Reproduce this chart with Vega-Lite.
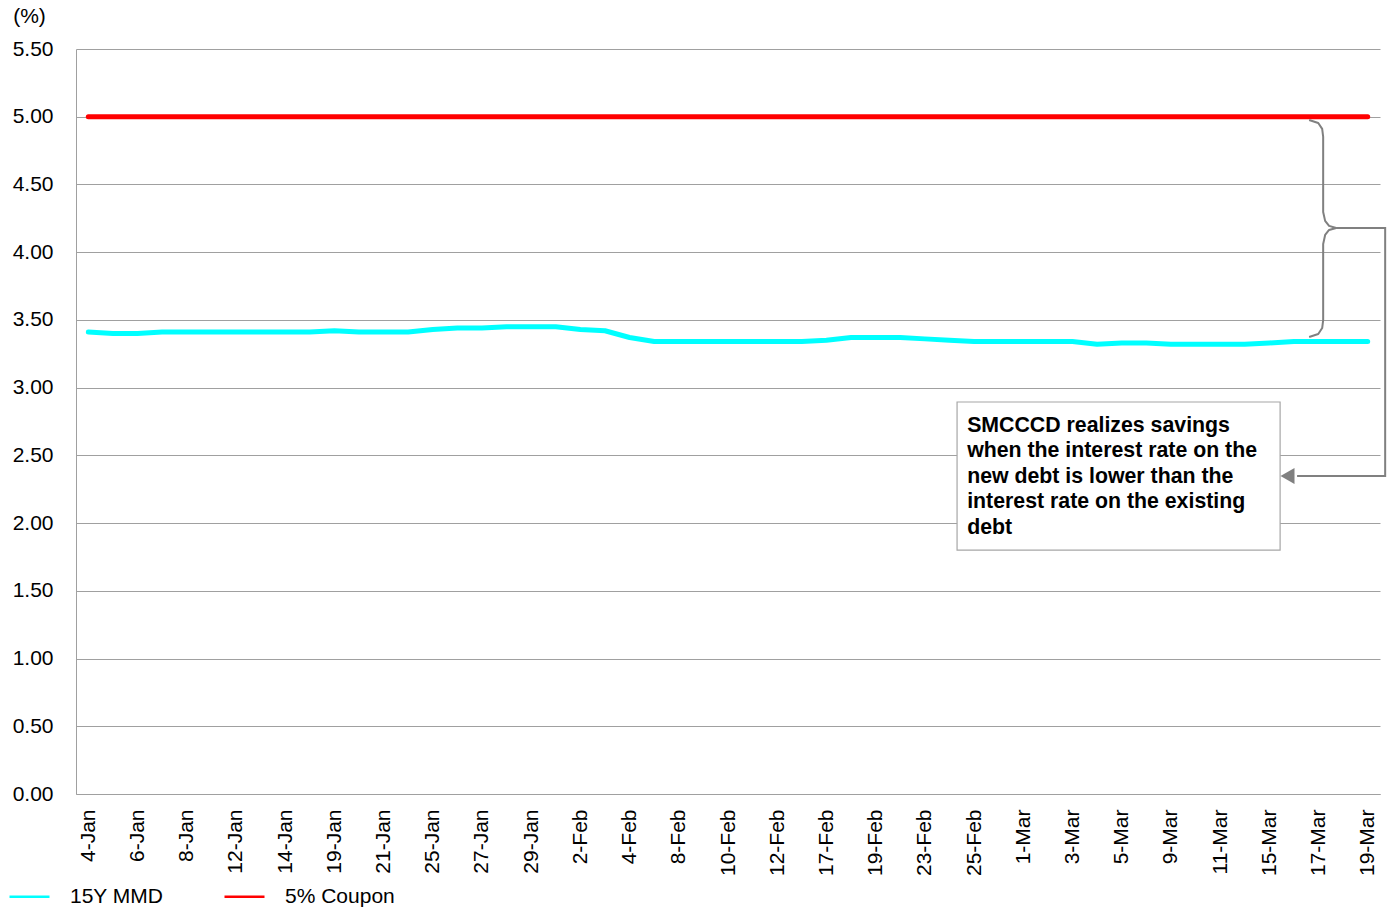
{
  "$schema": "https://vega.github.io/schema/vega-lite/v6.json",
  "width": 1304,
  "height": 745,
  "autosize": {"type": "none"},
  "padding": {"left": 76, "top": 49, "right": 9, "bottom": 113},
  "background": "white",
  "config": {
    "view": {"stroke": null},
    "font": "Liberation Sans",
    "axis": {"domainColor": "#A0A0A0", "gridColor": "#A0A0A0", "ticks": false, "labelFont": "Liberation Sans", "labelFontSize": 21, "labelColor": "#000000"},
    "legend": {"labelFont": "Liberation Sans", "labelFontSize": 21, "labelColor": "#000000"}
  },
  "datasets": {
    "rates": [
      {"date": "4-Jan", "series": "15Y MMD", "rate": 3.41},
      {"date": "5-Jan", "series": "15Y MMD", "rate": 3.40},
      {"date": "6-Jan", "series": "15Y MMD", "rate": 3.40},
      {"date": "7-Jan", "series": "15Y MMD", "rate": 3.41},
      {"date": "8-Jan", "series": "15Y MMD", "rate": 3.41},
      {"date": "11-Jan", "series": "15Y MMD", "rate": 3.41},
      {"date": "12-Jan", "series": "15Y MMD", "rate": 3.41},
      {"date": "13-Jan", "series": "15Y MMD", "rate": 3.41},
      {"date": "14-Jan", "series": "15Y MMD", "rate": 3.41},
      {"date": "15-Jan", "series": "15Y MMD", "rate": 3.41},
      {"date": "19-Jan", "series": "15Y MMD", "rate": 3.42},
      {"date": "20-Jan", "series": "15Y MMD", "rate": 3.41},
      {"date": "21-Jan", "series": "15Y MMD", "rate": 3.41},
      {"date": "22-Jan", "series": "15Y MMD", "rate": 3.41},
      {"date": "25-Jan", "series": "15Y MMD", "rate": 3.43},
      {"date": "26-Jan", "series": "15Y MMD", "rate": 3.44},
      {"date": "27-Jan", "series": "15Y MMD", "rate": 3.44},
      {"date": "28-Jan", "series": "15Y MMD", "rate": 3.45},
      {"date": "29-Jan", "series": "15Y MMD", "rate": 3.45},
      {"date": "1-Feb", "series": "15Y MMD", "rate": 3.45},
      {"date": "2-Feb", "series": "15Y MMD", "rate": 3.43},
      {"date": "3-Feb", "series": "15Y MMD", "rate": 3.42},
      {"date": "4-Feb", "series": "15Y MMD", "rate": 3.37},
      {"date": "5-Feb", "series": "15Y MMD", "rate": 3.34},
      {"date": "8-Feb", "series": "15Y MMD", "rate": 3.34},
      {"date": "9-Feb", "series": "15Y MMD", "rate": 3.34},
      {"date": "10-Feb", "series": "15Y MMD", "rate": 3.34},
      {"date": "11-Feb", "series": "15Y MMD", "rate": 3.34},
      {"date": "12-Feb", "series": "15Y MMD", "rate": 3.34},
      {"date": "16-Feb", "series": "15Y MMD", "rate": 3.34},
      {"date": "17-Feb", "series": "15Y MMD", "rate": 3.35},
      {"date": "18-Feb", "series": "15Y MMD", "rate": 3.37},
      {"date": "19-Feb", "series": "15Y MMD", "rate": 3.37},
      {"date": "22-Feb", "series": "15Y MMD", "rate": 3.37},
      {"date": "23-Feb", "series": "15Y MMD", "rate": 3.36},
      {"date": "24-Feb", "series": "15Y MMD", "rate": 3.35},
      {"date": "25-Feb", "series": "15Y MMD", "rate": 3.34},
      {"date": "26-Feb", "series": "15Y MMD", "rate": 3.34},
      {"date": "1-Mar", "series": "15Y MMD", "rate": 3.34},
      {"date": "2-Mar", "series": "15Y MMD", "rate": 3.34},
      {"date": "3-Mar", "series": "15Y MMD", "rate": 3.34},
      {"date": "4-Mar", "series": "15Y MMD", "rate": 3.32},
      {"date": "5-Mar", "series": "15Y MMD", "rate": 3.33},
      {"date": "8-Mar", "series": "15Y MMD", "rate": 3.33},
      {"date": "9-Mar", "series": "15Y MMD", "rate": 3.32},
      {"date": "10-Mar", "series": "15Y MMD", "rate": 3.32},
      {"date": "11-Mar", "series": "15Y MMD", "rate": 3.32},
      {"date": "12-Mar", "series": "15Y MMD", "rate": 3.32},
      {"date": "15-Mar", "series": "15Y MMD", "rate": 3.33},
      {"date": "16-Mar", "series": "15Y MMD", "rate": 3.34},
      {"date": "17-Mar", "series": "15Y MMD", "rate": 3.34},
      {"date": "18-Mar", "series": "15Y MMD", "rate": 3.34},
      {"date": "19-Mar", "series": "15Y MMD", "rate": 3.34},
      {"date": "4-Jan", "series": "5% Coupon", "rate": 5.0},
      {"date": "5-Jan", "series": "5% Coupon", "rate": 5.0},
      {"date": "6-Jan", "series": "5% Coupon", "rate": 5.0},
      {"date": "7-Jan", "series": "5% Coupon", "rate": 5.0},
      {"date": "8-Jan", "series": "5% Coupon", "rate": 5.0},
      {"date": "11-Jan", "series": "5% Coupon", "rate": 5.0},
      {"date": "12-Jan", "series": "5% Coupon", "rate": 5.0},
      {"date": "13-Jan", "series": "5% Coupon", "rate": 5.0},
      {"date": "14-Jan", "series": "5% Coupon", "rate": 5.0},
      {"date": "15-Jan", "series": "5% Coupon", "rate": 5.0},
      {"date": "19-Jan", "series": "5% Coupon", "rate": 5.0},
      {"date": "20-Jan", "series": "5% Coupon", "rate": 5.0},
      {"date": "21-Jan", "series": "5% Coupon", "rate": 5.0},
      {"date": "22-Jan", "series": "5% Coupon", "rate": 5.0},
      {"date": "25-Jan", "series": "5% Coupon", "rate": 5.0},
      {"date": "26-Jan", "series": "5% Coupon", "rate": 5.0},
      {"date": "27-Jan", "series": "5% Coupon", "rate": 5.0},
      {"date": "28-Jan", "series": "5% Coupon", "rate": 5.0},
      {"date": "29-Jan", "series": "5% Coupon", "rate": 5.0},
      {"date": "1-Feb", "series": "5% Coupon", "rate": 5.0},
      {"date": "2-Feb", "series": "5% Coupon", "rate": 5.0},
      {"date": "3-Feb", "series": "5% Coupon", "rate": 5.0},
      {"date": "4-Feb", "series": "5% Coupon", "rate": 5.0},
      {"date": "5-Feb", "series": "5% Coupon", "rate": 5.0},
      {"date": "8-Feb", "series": "5% Coupon", "rate": 5.0},
      {"date": "9-Feb", "series": "5% Coupon", "rate": 5.0},
      {"date": "10-Feb", "series": "5% Coupon", "rate": 5.0},
      {"date": "11-Feb", "series": "5% Coupon", "rate": 5.0},
      {"date": "12-Feb", "series": "5% Coupon", "rate": 5.0},
      {"date": "16-Feb", "series": "5% Coupon", "rate": 5.0},
      {"date": "17-Feb", "series": "5% Coupon", "rate": 5.0},
      {"date": "18-Feb", "series": "5% Coupon", "rate": 5.0},
      {"date": "19-Feb", "series": "5% Coupon", "rate": 5.0},
      {"date": "22-Feb", "series": "5% Coupon", "rate": 5.0},
      {"date": "23-Feb", "series": "5% Coupon", "rate": 5.0},
      {"date": "24-Feb", "series": "5% Coupon", "rate": 5.0},
      {"date": "25-Feb", "series": "5% Coupon", "rate": 5.0},
      {"date": "26-Feb", "series": "5% Coupon", "rate": 5.0},
      {"date": "1-Mar", "series": "5% Coupon", "rate": 5.0},
      {"date": "2-Mar", "series": "5% Coupon", "rate": 5.0},
      {"date": "3-Mar", "series": "5% Coupon", "rate": 5.0},
      {"date": "4-Mar", "series": "5% Coupon", "rate": 5.0},
      {"date": "5-Mar", "series": "5% Coupon", "rate": 5.0},
      {"date": "8-Mar", "series": "5% Coupon", "rate": 5.0},
      {"date": "9-Mar", "series": "5% Coupon", "rate": 5.0},
      {"date": "10-Mar", "series": "5% Coupon", "rate": 5.0},
      {"date": "11-Mar", "series": "5% Coupon", "rate": 5.0},
      {"date": "12-Mar", "series": "5% Coupon", "rate": 5.0},
      {"date": "15-Mar", "series": "5% Coupon", "rate": 5.0},
      {"date": "16-Mar", "series": "5% Coupon", "rate": 5.0},
      {"date": "17-Mar", "series": "5% Coupon", "rate": 5.0},
      {"date": "18-Mar", "series": "5% Coupon", "rate": 5.0},
      {"date": "19-Mar", "series": "5% Coupon", "rate": 5.0}
    ],
    "brace": [
      {"k": 1, "u": 50.12, "rate": 4.976},
      {"k": 2, "u": 50.49, "rate": 4.954},
      {"k": 3, "u": 50.65, "rate": 4.910},
      {"k": 4, "u": 50.69, "rate": 4.851},
      {"k": 5, "u": 50.69, "rate": 4.297},
      {"k": 6, "u": 50.77, "rate": 4.231},
      {"k": 7, "u": 50.93, "rate": 4.194},
      {"k": 8, "u": 51.22, "rate": 4.179},
      {"k": 9, "u": 50.93, "rate": 4.164},
      {"k": 10, "u": 50.77, "rate": 4.127},
      {"k": 11, "u": 50.69, "rate": 4.061},
      {"k": 12, "u": 50.69, "rate": 3.499},
      {"k": 13, "u": 50.65, "rate": 3.440},
      {"k": 14, "u": 50.49, "rate": 3.396},
      {"k": 15, "u": 50.12, "rate": 3.374}
    ],
    "connector": [
      {"k": 1, "u": 51.22, "rate": 4.179},
      {"k": 2, "u": 53.21, "rate": 4.179},
      {"k": 3, "u": 53.21, "rate": 2.348},
      {"k": 4, "u": 49.63, "rate": 2.348}
    ],
    "arrow": [{"u": 49.24, "rate": 2.348}],
    "box": [{"u1": 35.81, "u2": 48.94, "r1": 2.894, "r2": 1.801}],
    "note": [{"u": 36.22, "rate": 2.673, "label": "SMCCCD realizes savings\nwhen the interest rate on the\nnew debt is lower than the\ninterest rate on the existing\ndebt"}]
  },
  "resolve": {"scale": {"x": "independent"}},
  "layer": [
    {
      "data": {"name": "rates"},
      "mark": {"type": "line", "strokeWidth": 5, "strokeCap": "round", "strokeJoin": "round"},
      "encoding": {
        "x": {
          "field": "date", "type": "ordinal", "sort": null,
          "scale": {"type": "point", "padding": 0.5},
          "axis": {
            "title": null, "grid": false, "labelAngle": -90, "labelPadding": 15,
            "values": ["4-Jan","6-Jan","8-Jan","12-Jan","14-Jan","19-Jan","21-Jan","25-Jan","27-Jan","29-Jan","2-Feb","4-Feb","8-Feb","10-Feb","12-Feb","17-Feb","19-Feb","23-Feb","25-Feb","1-Mar","3-Mar","5-Mar","9-Mar","11-Mar","15-Mar","17-Mar","19-Mar"]
          }
        },
        "y": {
          "field": "rate", "type": "quantitative",
          "scale": {"domain": [0, 5.5], "nice": false, "zero": true},
          "axis": {
            "title": "(%)", "titleAngle": 0, "titleX": -47, "titleY": -33, "titleAlign": "center", "titleBaseline": "middle",
            "titleFont": "Liberation Sans", "titleFontSize": 21, "titleFontWeight": "normal", "titleColor": "#000000",
            "values": [0, 0.5, 1, 1.5, 2, 2.5, 3, 3.5, 4, 4.5, 5, 5.5],
            "format": ".2f", "grid": true, "labelPadding": 23
          }
        },
        "color": {
          "field": "series", "type": "nominal",
          "scale": {"domain": ["15Y MMD", "5% Coupon"], "range": ["#00FFFF", "#FF0000"]},
          "legend": {
            "title": null, "orient": "none", "direction": "horizontal", "legendX": -68, "legendY": 826,
            "symbolType": "stroke", "symbolSize": 1600, "symbolStrokeWidth": 2.5, "labelOffset": 19,
            "columnPadding": 55, "padding": 0
          }
        }
      }
    },
    {
      "data": {"name": "box"},
      "mark": {"type": "rect", "fill": "white", "stroke": "#A6A6A6", "strokeWidth": 1.2},
      "encoding": {
        "x": {"field": "u1", "type": "quantitative", "scale": {"domain": [0, 53], "nice": false, "zero": false}, "axis": null},
        "x2": {"field": "u2"},
        "y": {"field": "r1", "type": "quantitative"},
        "y2": {"field": "r2"}
      }
    },
    {
      "data": {"name": "note"},
      "mark": {"type": "text", "align": "left", "baseline": "alphabetic", "font": "Liberation Sans", "fontSize": 21.3, "fontWeight": "bold", "color": "#000000", "lineBreak": "\n", "lineHeight": 25.5},
      "encoding": {
        "x": {"field": "u", "type": "quantitative", "scale": {"domain": [0, 53], "nice": false, "zero": false}, "axis": null},
        "y": {"field": "rate", "type": "quantitative"},
        "text": {"field": "label", "type": "nominal"}
      }
    },
    {
      "data": {"name": "brace"},
      "mark": {"type": "line", "color": "#808080", "strokeWidth": 2, "strokeJoin": "round"},
      "encoding": {
        "x": {"field": "u", "type": "quantitative", "scale": {"domain": [0, 53], "nice": false, "zero": false}, "axis": null},
        "y": {"field": "rate", "type": "quantitative"},
        "order": {"field": "k", "type": "quantitative"}
      }
    },
    {
      "data": {"name": "connector"},
      "mark": {"type": "line", "color": "#808080", "strokeWidth": 2},
      "encoding": {
        "x": {"field": "u", "type": "quantitative", "scale": {"domain": [0, 53], "nice": false, "zero": false}, "axis": null},
        "y": {"field": "rate", "type": "quantitative"},
        "order": {"field": "k", "type": "quantitative"}
      }
    },
    {
      "data": {"name": "arrow"},
      "mark": {"type": "point", "shape": "triangle-left", "filled": true, "color": "#808080", "size": 260, "opacity": 1},
      "encoding": {
        "x": {"field": "u", "type": "quantitative", "scale": {"domain": [0, 53], "nice": false, "zero": false}, "axis": null},
        "y": {"field": "rate", "type": "quantitative"}
      }
    }
  ]
}
